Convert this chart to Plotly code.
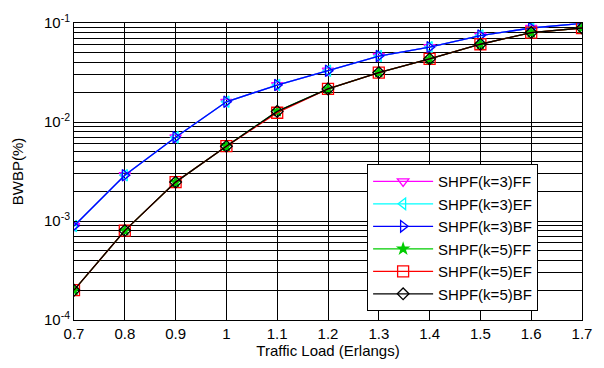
import plotly.graph_objects as go

load = [0.7, 0.8, 0.9, 1.0, 1.1, 1.2, 1.3, 1.4, 1.5, 1.6, 1.7]
k3_ff = [8.9e-4, 2.9e-3, 7.0e-3, 0.016, 0.0236, 0.033, 0.0464, 0.057, 0.0746, 0.089, 0.099]
k3_ef = [8.9e-4, 2.9e-3, 7.0e-3, 0.016, 0.0236, 0.033, 0.0464, 0.057, 0.0746, 0.089, 0.099]
k3_bf = [8.9e-4, 2.9e-3, 7.0e-3, 0.016, 0.0236, 0.033, 0.0464, 0.057, 0.0746, 0.089, 0.099]
k5_ff = [2.0e-4, 8.0e-4, 2.47e-3, 5.7e-3, 0.0128, 0.0216, 0.0316, 0.0434, 0.061, 0.080, 0.089]
k5_ef = [2.0e-4, 8.0e-4, 2.47e-3, 5.7e-3, 0.0124, 0.0216, 0.0316, 0.0434, 0.061, 0.080, 0.089]
k5_bf = [2.0e-4, 8.0e-4, 2.47e-3, 5.7e-3, 0.0128, 0.0216, 0.0316, 0.0434, 0.061, 0.080, 0.089]

names = ["SHPF(k=3)FF", "SHPF(k=3)EF", "SHPF(k=3)BF", "SHPF(k=5)FF", "SHPF(k=5)EF", "SHPF(k=5)BF"]
series = [k3_ff, k3_ef, k3_bf, k5_ff, k5_ef, k5_bf]
colors = ["#ff00ff", "#00ffff", "#0000ff", "#00cc00", "#ff0000", "#000000"]
symbols = ["triangle-down-open", "triangle-left-open", "triangle-right-open",
           "star", "square-open", "diamond-open"]
sizes = [10, 10, 10, 8, 11, 9]

xticktext = ["0.7", "0.8", "0.9", "1", "1.1", "1.2", "1.3", "1.4", "1.5", "1.6", "1.7"]
ytickvals = [1e-4, 1e-3, 1e-2, 1e-1]
yticktext = ["10<sup>-4</sup>", "10<sup>-3</sup>", "10<sup>-2</sup>", "10<sup>-1</sup>"]

fig = go.Figure()
for n, s, c, m, sz in zip(names, series, colors, symbols, sizes):
    fig.add_trace(go.Scatter(
        x=load, y=s, name=n, mode="lines+markers",
        line=dict(color=c, width=1.3),
        marker=dict(symbol=m, size=sz, color=c, line=dict(color=c, width=1.3)),
    ))

fig.update_layout(
    width=604, height=368,
    margin=dict(l=74, r=17, t=15, b=48),
    paper_bgcolor="white", plot_bgcolor="white",
    font=dict(family="Liberation Sans, Arial, sans-serif", color="black", size=15),
    showlegend=True,
    legend=dict(
        x=0.577, y=0.525, xanchor="left", yanchor="top",
        bgcolor="white", bordercolor="black", borderwidth=1,
        font=dict(size=15), itemwidth=60, tracegroupgap=0,
    ),
    xaxis=dict(
        title=dict(text="Traffic Load (Erlangs)", font=dict(size=15), standoff=2),
        range=[0.7, 1.7], tickvals=load, ticktext=xticktext,
        showgrid=True, gridcolor="black", gridwidth=1,
        showline=True, linecolor="black", linewidth=1, mirror=True,
        ticks="inside", ticklen=3, tickcolor="black", zeroline=False,
    ),
    yaxis=dict(
        title=dict(text="BWBP(%)", font=dict(size=15), standoff=16),
        type="log", range=[-4, -1],
        tickvals=ytickvals, ticktext=yticktext,
        showgrid=True, gridcolor="black", gridwidth=1,
        minor=dict(showgrid=True, gridcolor="black", gridwidth=1, ticks="",
                   tickvals=[m * 10 ** e for e in (-4, -3, -2) for m in range(2, 10)]),
        showline=True, linecolor="black", linewidth=1, mirror=True,
        ticks="inside", ticklen=3, tickcolor="black", zeroline=False,
    ),
)

fig.write_html("out.html")
